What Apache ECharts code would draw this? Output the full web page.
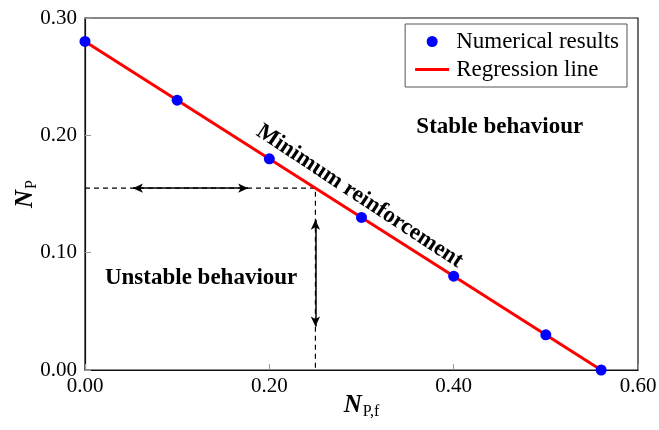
<!DOCTYPE html>
<html><head><meta charset="utf-8">
<script src="https://cdn.jsdelivr.net/npm/echarts@6/dist/echarts.min.js"></script>
<style>html,body{margin:0;padding:0;background:#fff}#c{width:659px;height:430px}</style>
</head><body><div id="c"></div>
<script>
const xNum = [0, 0.1, 0.2, 0.3, 0.4, 0.5, 0.56];
const yNum = [0.28, 0.23, 0.18, 0.13, 0.08, 0.03, 0.0];
const regX = [0, 0.56];
const regY = [0.28, 0.0];
const minReinf = [0.25, 0.155];
const hArrow = [[0.052, 0.155], [0.177, 0.155]];
const vArrow = [[0.25, 0.128], [0.25, 0.037]];
const notes = [
  {name: 'Stable behaviour', x: 0.45, y: 0.207, rot: 0},
  {name: 'Unstable behaviour', x: 0.126, y: 0.078, rot: 0},
  {name: 'Minimum reinforcement', x: 0.298, y: 0.148, rot: -33.4}
];
const F = 'Liberation Serif';
const chart = echarts.init(document.getElementById('c'));
const nameRich = {
  b: {fontFamily: F, fontSize: 25, fontWeight: 'bold', fontStyle: 'italic', color: '#000'},
  s: {fontFamily: F, fontSize: 16, color: '#000', verticalAlign: 'bottom', padding: [12, 0, 0, 1]}
};
chart.setOption({
  animation: false,
  textStyle: {fontFamily: F},
  grid: {left: 85, right: 21, top: 18, bottom: 60, show: true, borderColor: '#111', borderWidth: 1.2, containLabel: false, outerBoundsMode: 'none'},
  legend: {
    right: 32, top: 24, orient: 'vertical', itemGap: 5,
    borderColor: '#555', borderWidth: 1, padding: [6, 8, 6, 10], backgroundColor: '#fff',
    textStyle: {fontFamily: F, fontSize: 23, color: '#000'},
    itemWidth: 38, itemHeight: 11,
    data: [
      {name: 'Numerical results', icon: 'circle'},
      {name: 'Regression line', icon: 'path://M0,0L0.01,0ZM0,4H34V7H0ZM0,11L0.01,11Z'}
    ]
  },
  xAxis: {
    type: 'value', min: 0, max: 0.6, interval: 0.2,
    name: '{b|N}{s|P,f}', nameLocation: 'middle', nameGap: 22, nameMoveOverlap: false,
    nameTextStyle: {rich: nameRich},
    axisLine: {lineStyle: {color: '#111', width: 1.2}},
    axisTick: {inside: true, length: 6, lineStyle: {color: '#999'}},
    axisLabel: {fontFamily: F, fontSize: 21, color: '#000', margin: 6, formatter: v => v.toFixed(2)},
    splitLine: {show: false}
  },
  yAxis: {
    type: 'value', min: 0, max: 0.3, interval: 0.1,
    name: '{b|N}{s|P}', nameLocation: 'middle', nameGap: 45, nameRotate: 90, nameMoveOverlap: false,
    nameTextStyle: {rich: nameRich},
    axisLine: {lineStyle: {color: '#111', width: 1.2}},
    axisTick: {inside: true, length: 6, lineStyle: {color: '#999'}},
    axisLabel: {fontFamily: F, fontSize: 21, color: '#000', margin: 8, formatter: v => v.toFixed(2)},
    splitLine: {show: false}
  },
  series: [
    {
      name: 'dash', type: 'line', symbol: 'none', silent: true,
      data: [[0, minReinf[1]], [minReinf[0], minReinf[1]], [minReinf[0], 0]],
      lineStyle: {color: '#000', type: [5, 4], width: 1.2}, z: 1,
      markLine: {
        silent: true, symbol: ['arrow', 'arrow'], symbolSize: [7, 10],
        lineStyle: {color: '#000', type: 'solid', width: 1.5}, label: {show: false},
        data: [
          [{coord: hArrow[0]}, {coord: hArrow[1]}],
          [{coord: vArrow[0]}, {coord: vArrow[1]}]
        ]
      }
    },
    {
      name: 'Regression line', type: 'line', symbol: 'none',
      data: regX.map((x, i) => [x, regY[i]]),
      lineStyle: {color: '#ff0000', width: 3}, itemStyle: {color: '#ff0000'}, z: 2
    },
    {
      name: 'Numerical results', type: 'scatter', symbolSize: 11,
      data: xNum.map((x, i) => [x, yNum[i]]),
      itemStyle: {color: '#0000ff', opacity: 1}, z: 3
    },
    {
      name: 'notes', type: 'scatter', symbolSize: 0, silent: true,
      itemStyle: {color: 'rgba(0,0,0,0)'},
      data: notes.map(n => ({value: [n.x, n.y], name: n.name, label: {rotate: n.rot}})),
      label: {show: true, position: 'inside', formatter: p => p.name, fontFamily: F, fontSize: 23, fontWeight: 'bold', color: '#000', textBorderWidth: 0, opacity: 1},
      z: 4
    }
  ]
});
</script></body></html>
